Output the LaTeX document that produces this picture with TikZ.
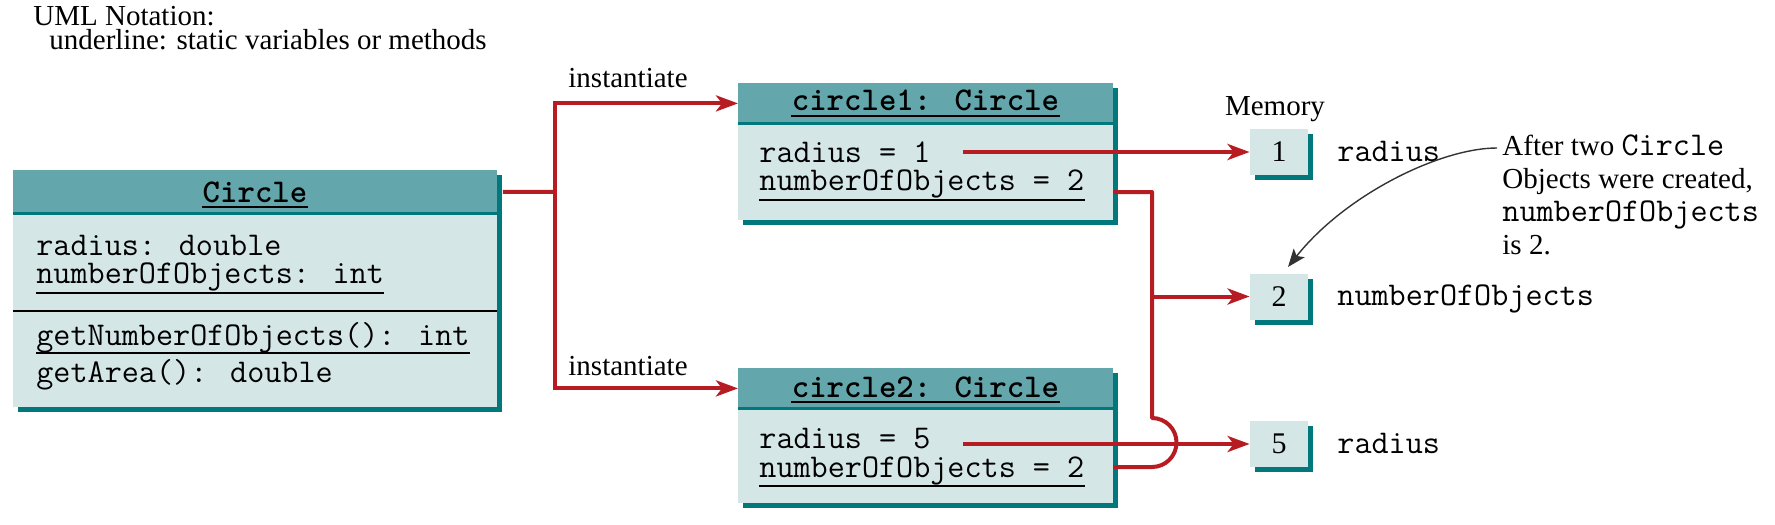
\documentclass[tikz,border=0pt]{standalone}
\usepackage{fontspec}
\setmainfont{Liberation Serif}
\usetikzlibrary{arrows.meta,shadows}
\definecolor{hdr}{HTML}{63A7AC}
\definecolor{bdy}{HTML}{D5E6E7}
\definecolor{tealdk}{HTML}{00787C}
\definecolor{conred}{HTML}{B71C22}
\definecolor{annot}{HTML}{333333}
\newcommand\annmono[1]{{\fontsize{16.6}{16.5}\selectfont\ttfamily #1}}
\begin{document}
\begin{tikzpicture}[x=0.5pt,y=-0.5pt,
  font=\fontsize{14.5}{16}\selectfont,
  conn/.style={draw=conred, line width=2pt},
  arr/.style={conn,-{Stealth[length=11pt,width=8pt,inset=3pt]}},
  txt/.style={inner sep=0pt, anchor=base west},
  mono/.style={font=\fontsize{16.6}{18}\selectfont\ttfamily, inner sep=0pt, anchor=base west},
  titletxt/.style={font=\fontsize{16.6}{18}\selectfont\ttfamily\bfseries, inner sep=0pt, anchor=base},
  hdrbox/.style={fill=hdr, draw=none, inner sep=0pt, anchor=north west},
  shadowbox/.style={fill=tealdk},
  bodybox/.style={fill=bdy},
  hdrline/.style={draw=tealdk, line width=1.5pt},
  uline/.style={draw=black, line width=0.6pt},
  mem/.style={fill=bdy, inner sep=0pt, minimum width=29pt, minimum height=23pt,
    drop shadow={shadow xshift=2.5pt, shadow yshift=-2.5pt, fill=tealdk, opacity=1}},
]
\useasboundingbox (0,0) rectangle (1775,524);

% notation
\node[txt] (n1t) at (33,26) {UML Notation:};
\node[txt] (n2t) at (49,50) {underline: static variables or methods};

% ---------------- Circle class
\fill[shadowbox] (18,175) rectangle (502,412);
\fill[bodybox] (13,170) rectangle (497,407);
\node[hdrbox, minimum width=242pt, minimum height=21.5pt] (clsh) at (13,170) {};
\draw[hdrline] (13,213) -- (497,213);
\node[titletxt] (clst) at (255,202) {Circle};
\draw[uline] ([yshift=-2.5pt]clst.base west) -- ([yshift=-2.5pt]clst.base east);
\node[mono] (ca1) at (36,255) {radius: double};
\node[mono] (ca2) at (36,283) {numberOfObjects: int};
\draw[uline] ([yshift=-5pt]ca2.base west) -- ([yshift=-5pt]ca2.base east);
\draw[black, line width=0.8pt] (13,311) -- (497,311);
\node[mono] (cm1) at (36,345) {getNumberOfObjects(): int};
\draw[uline] ([yshift=-4pt]cm1.base west) -- ([yshift=-4pt]cm1.base east);
\node[mono] (cm2) at (36,382) {getArea(): double};

% ---------------- circle1
\fill[shadowbox] (743,88) rectangle (1118,225);
\fill[bodybox] (738,83) rectangle (1113,220);
\node[hdrbox, minimum width=187.5pt, minimum height=20pt] (c1h) at (738,83) {};
\draw[hdrline] (738,123) -- (1113,123);
\node[titletxt] (c1t) at (925.5,111) {circle1: Circle};
\draw[uline] ([yshift=-2.5pt]c1t.base west) -- ([yshift=-2.5pt]c1t.base east);
\node[mono] (c1a1) at (759,162) {radius = 1};
\node[mono] (c1a2) at (759,190) {numberOfObjects = 2};
\draw[uline] ([yshift=-5pt]c1a2.base west) -- ([yshift=-5pt]c1a2.base east);

% ---------------- circle2
\fill[shadowbox] (743,373) rectangle (1118,508);
\fill[bodybox] (738,368) rectangle (1113,503);
\node[hdrbox, minimum width=187.5pt, minimum height=20pt] (c2h) at (738,368) {};
\draw[hdrline] (738,408) -- (1113,408);
\node[titletxt] (c2t) at (925.5,397) {circle2: Circle};
\draw[uline] ([yshift=-2.5pt]c2t.base west) -- ([yshift=-2.5pt]c2t.base east);
\node[mono] (c2a1) at (759,448) {radius = 5};
\node[mono] (c2a2) at (759,477) {numberOfObjects = 2};
\draw[uline] ([yshift=-4.5pt]c2a2.base west) -- ([yshift=-4.5pt]c2a2.base east);

% ---------------- memory
\node[anchor=base, inner sep=0pt] (memlbl) at (1275,115) {Memory};
\node[mem, font=\fontsize{15}{16}\selectfont] (m1) at (1279,152) {1};
\node[mem, font=\fontsize{15}{16}\selectfont] (m2) at (1279,296.5) {2};
\node[mem, font=\fontsize{15}{16}\selectfont] (m5) at (1279,444) {5};
\node[mono] (l1) at (1337,161) {radius};
\node[mono] (l2) at (1337,305) {numberOfObjects};
\node[mono] (l5) at (1337,453) {radius};

% annotation
\node[inner sep=0pt, anchor=north west, align=left, font=\fontsize{14.5}{16.5}\selectfont] (ann) at (1502,134)
  {After two \annmono{Circle}\\Objects were created,\\\annmono{numberOfObjects}\\is 2.};

% ---------------- connectors
\coordinate (split) at (555,192);
\draw[conn] ([xshift=2.5pt]clsh.east) -- (split);
\draw[arr] (split) |- (c1h.west);
\draw[arr] (split) |- (c2h.west);
\node[txt] (inst1) at (568,88) {instantiate};
\node[txt] (inst2) at (568,375) {instantiate};

\coordinate (r1) at (963,152);
\coordinate (r5) at (963,444);
\draw[arr] (r1) -- (m1.west);
\draw[arr] (r5) -- (m5.west);

\coordinate (n1) at (1113,192);
\coordinate (n2) at (1113,467);
\coordinate (j1) at (1152,192);
\coordinate (j2) at (1152,418);
\coordinate (br) at (1152,296.5);
\draw[conn, line join=round] (n1) -- (j1) -- (j2) arc[start angle=90, end angle=-90, radius=12.25pt] -- (n2);
\draw[arr] (br) -- (m2.west);

\coordinate (as) at (1497,148);
\coordinate (ae) at (1288,267);
\draw[annot, line width=0.7pt, -{Stealth[length=9pt,width=7pt,inset=2pt]}]
  (as) .. controls (1440,148) and (1345,195) .. (ae);
\end{tikzpicture}
\end{document}
